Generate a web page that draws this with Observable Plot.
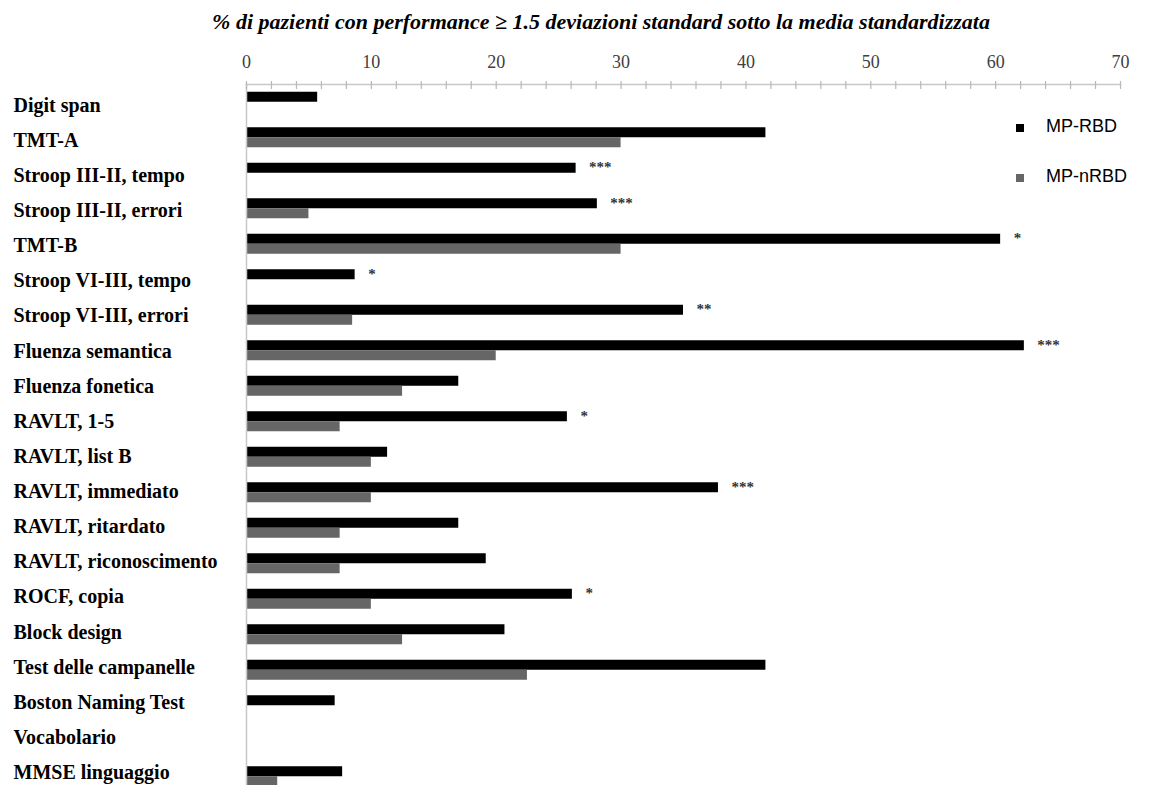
<!DOCTYPE html>
<html>
<head>
<meta charset="utf-8">
<script src="https://cdn.jsdelivr.net/npm/d3@7"></script>
<script src="https://cdn.jsdelivr.net/npm/@observablehq/plot@0.6"></script>
<style>
  html, body { margin: 0; padding: 0; background: #fff; overflow: hidden; }
  #wrap { position: relative; width: 1150px; height: 785px; overflow: hidden; }
  #title { position: absolute; left: 0; width: 1202px; top: 9px; text-align: center;
    font-family: "Liberation Serif", "Times New Roman", serif; font-style: italic; font-weight: bold;
    font-size: 22px; color: #000; white-space: nowrap; }
  #legend { position: absolute; left: 1016px; top: 114px; font-family: "Liberation Sans", Arial, sans-serif;
    font-size: 18px; color: #000; }
  .item { position: relative; height: 50px; }
  .sw { position: absolute; left: 0; top: 10px; width: 8px; height: 8px; }
  .lab { position: absolute; left: 30px; top: 2px; white-space: nowrap; }
  #chart { position: absolute; left: 0; top: 0; }
</style>
</head>
<body>
<div id="wrap">
  <div id="chart"></div>
  <div id="title">% di pazienti con performance ≥ 1.5 deviazioni standard sotto la media standardizzata</div>
  <div id="legend"></div>
</div>
<script>
const categories = [
  "Digit span", "TMT-A", "Stroop III-II, tempo", "Stroop III-II, errori", "TMT-B",
  "Stroop VI-III, tempo", "Stroop VI-III, errori", "Fluenza semantica", "Fluenza fonetica",
  "RAVLT, 1-5", "RAVLT, list B", "RAVLT, immediato", "RAVLT, ritardato", "RAVLT, riconoscimento",
  "ROCF, copia", "Block design", "Test delle campanelle", "Boston Naming Test", "Vocabolario",
  "MMSE linguaggio"
];
const seriesNames = ["MP-RBD", "MP-nRBD"];
const seriesColors = ["#000000", "#666666"];
const rbdValues  = [5.7, 41.6, 26.4, 28.1, 60.4, 8.7, 35.0, 62.3, 17.0, 25.7, 11.3, 37.8, 17.0, 19.2, 26.1, 20.7, 41.6, 7.1, 0, 7.7];
const nrbdValues = [0, 30.0, 0, 5.0, 30.0, 0, 8.5, 20.0, 12.5, 7.5, 10.0, 10.0, 7.5, 7.5, 10.0, 12.5, 22.5, 0, 0, 2.5];
const significance = ["", "", "***", "***", "*", "*", "**", "***", "", "*", "", "***", "", "", "*", "", "", "", "", ""];
const xTicksMajor = [0, 10, 20, 30, 40, 50, 60, 70];
const xTicksMinor = d3.range(0, 71, 2);

const rbdRows = categories.map((c, i) => ({test: c, value: rbdValues[i]})).filter(d => d.value > 0);
const nrbdRows = categories.map((c, i) => ({test: c, value: nrbdValues[i]})).filter(d => d.value > 0);
const starRows = categories.map((c, i) => ({test: c, value: rbdValues[i], stars: significance[i]})).filter(d => d.stars);

const marginTop = 84;
const bandH = 35.5;
const height = marginTop + bandH * categories.length;
const half = bandH / 2;
const barH = 10;

// the category labels sit on a slightly tighter pitch than the bars in the reference
const labelShift = (i) => 3 - (7 / (categories.length - 1)) * i;

const chart = Plot.plot({
  width: 1150,
  height,
  marginTop,
  marginLeft: 246,
  marginRight: 30,
  marginBottom: 0,
  style: {background: "#fff"},
  x: {domain: [0, 70], axis: null, label: null},
  y: {domain: categories, padding: 0, round: false, axis: null, label: null},
  marks: [
    Plot.barX(rbdRows, {x: "value", y: "test", fill: seriesColors[0], insetTop: half - barH, insetBottom: half}),
    Plot.barX(nrbdRows, {x: "value", y: "test", fill: seriesColors[1], insetTop: half, insetBottom: half - barH}),
    Plot.text(starRows, {x: "value", y: "test", text: "stars", textAnchor: "start", dx: 13, dy: -6,
      fontSize: 15, fontWeight: "bold", fontFamily: "Liberation Serif, serif", fill: "#333"}),
    Plot.text(categories, {y: d => d, text: d => d, frameAnchor: "left", textAnchor: "start", dx: -233,
      fontSize: 20, fontWeight: "bold", fontFamily: "Liberation Serif, serif", fill: "#000",
      render(index, scales, values, dimensions, context, next) {
        const y = Array.from(values.y, (v, i) => v + labelShift(i));
        return next(index, scales, {...values, y}, dimensions, context);
      }}),
    Plot.frame({anchor: "top", stroke: "#c8c8c8", strokeWidth: 1.5}),
    Plot.frame({anchor: "left", stroke: "#c8c8c8", strokeWidth: 1.5}),
    Plot.axisX({anchor: "top", ticks: xTicksMinor, tickSize: 4, text: null, label: null, stroke: "#b8b8b8", strokeWidth: 1.2}),
    Plot.axisX({anchor: "top", ticks: xTicksMinor, tickSize: 4, text: null, label: null, stroke: "#b8b8b8", strokeWidth: 1.2, dy: 4}),
    Plot.axisX({anchor: "top", ticks: xTicksMajor, tickSize: 0, tickPadding: 17, fontSize: 18, label: null,
      fontFamily: "Liberation Serif, serif", fill: "#404040", tickFormat: d => String(d)})
  ]
});
document.getElementById("chart").appendChild(chart);

const legend = document.getElementById("legend");
seriesNames.forEach((name, i) => {
  const item = document.createElement("div");
  item.className = "item";
  const sw = document.createElement("span");
  sw.className = "sw";
  sw.style.background = seriesColors[i];
  const lab = document.createElement("span");
  lab.className = "lab";
  lab.textContent = name;
  item.appendChild(sw);
  item.appendChild(lab);
  legend.appendChild(item);
});
</script>
</body>
</html>
